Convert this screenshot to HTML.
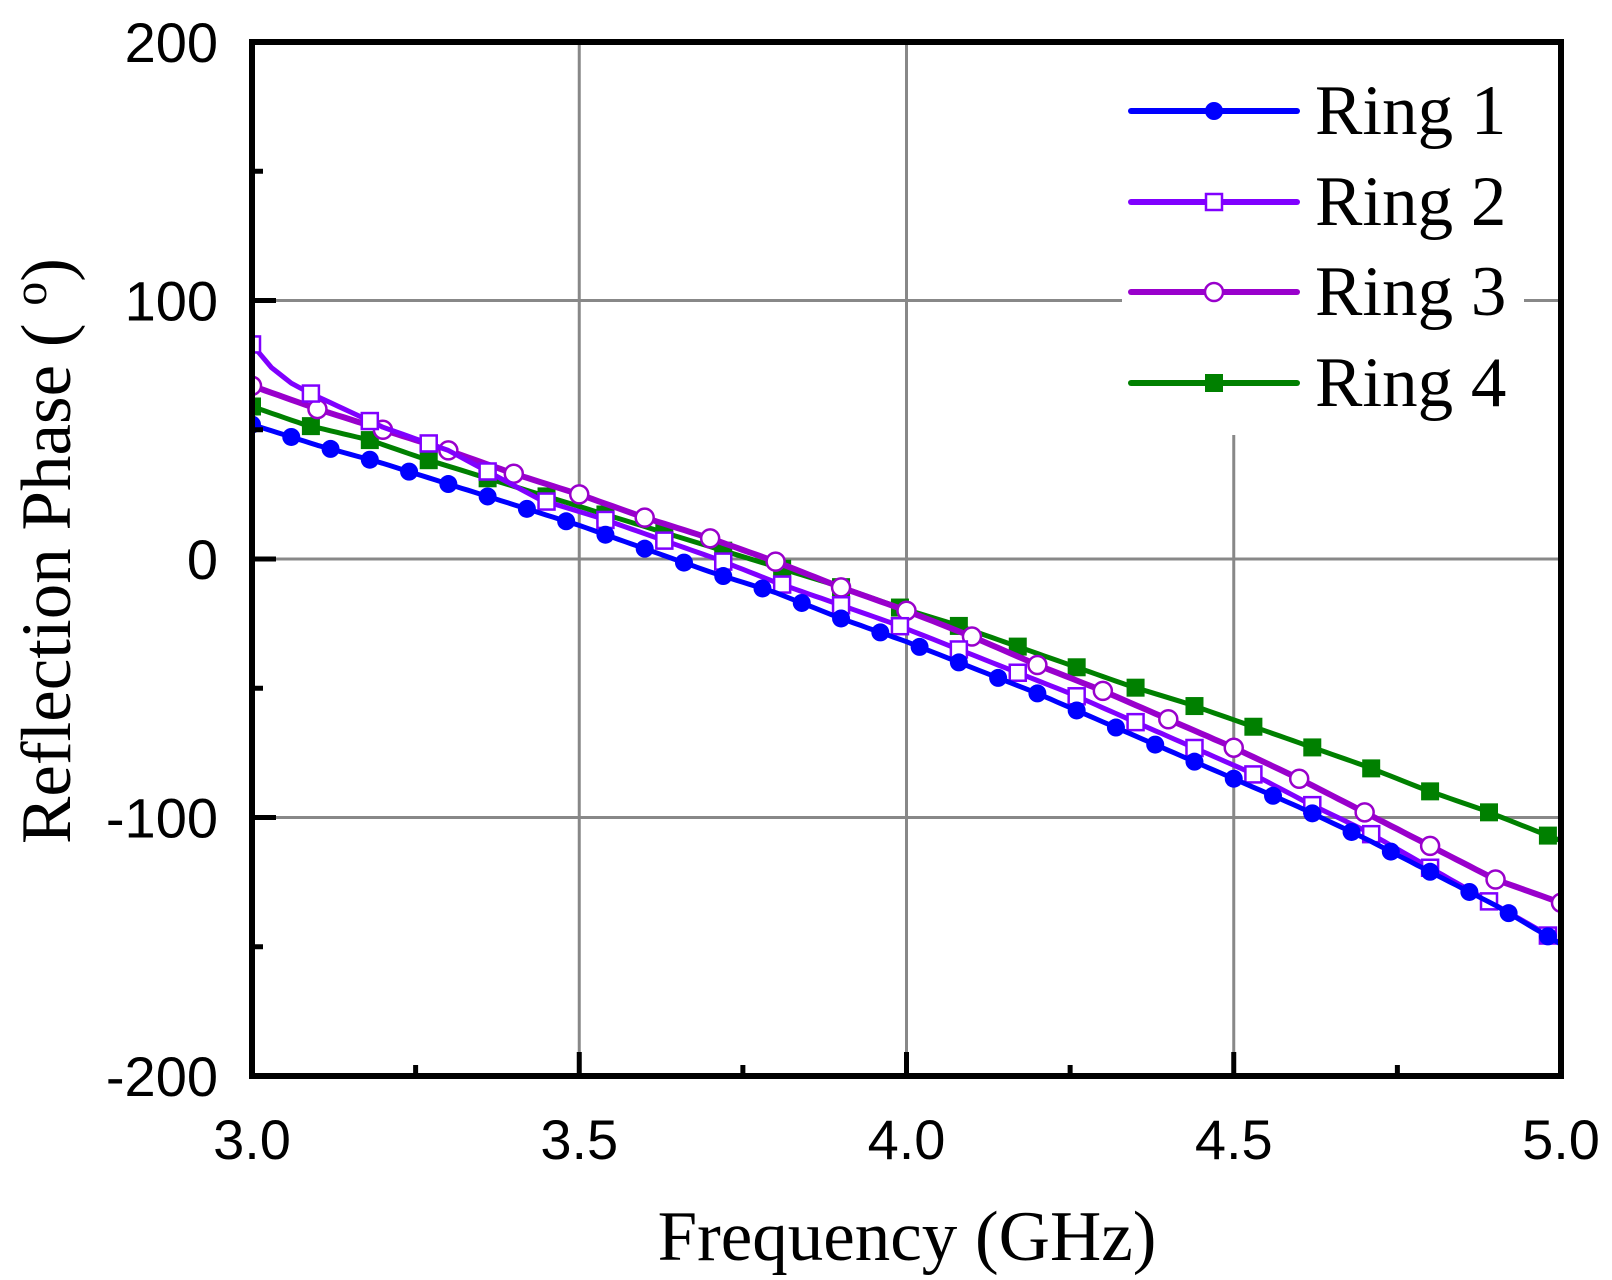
<!DOCTYPE html>
<html><head><meta charset="utf-8"><style>
html,body{margin:0;padding:0;background:#fff;}
svg{display:block;}
</style></head><body>
<svg id="s" width="1612" height="1280" xmlns="http://www.w3.org/2000/svg"></svg>
<script>
const X0=252,X1=1561,Y0=42,Y1=1076;
const fx=f=>X0+(f-3)/2*(X1-X0);
const fy=v=>Y0+(200-v)/400*(Y1-Y0);
let h='';
for(const f of [3.5,4.0,4.5]) h+=`<line x1="${fx(f)}" y1="${Y0}" x2="${fx(f)}" y2="${Y1}" stroke="#888" stroke-width="3"/>`;
for(const v of [100,0,-100]) h+=`<line x1="${X0}" y1="${fy(v)}" x2="${X1}" y2="${fy(v)}" stroke="#888" stroke-width="3"/>`;
h+=`<rect x="1122" y="45" width="402" height="390" fill="#fff"/>`;
function interp(k,f){for(let i=0;i<k.length-1;i++){if(f<=k[i+1][0]){const t=(f-k[i][0])/(k[i+1][0]-k[i][0]);return k[i][1]+t*(k[i+1][1]-k[i][1]);}}return k[k.length-1][1];}
const R1=[[3,52],[3.1,44],[3.2,37],[3.3,29],[3.4,21],[3.5,13],[3.6,4],[3.7,-5],[3.8,-13],[3.9,-23],[4,-32],[4.1,-42],[4.2,-52],[4.3,-63],[4.4,-74],[4.5,-85],[4.6,-96],[4.7,-108],[4.8,-121],[4.9,-134],[5,-149]];
const R2=[[3,83],[3.03,74],[3.06,68],[3.09,64],[3.2,51],[3.3,42],[3.44,23],[3.53,16],[3.62,8],[3.71,0],[3.8,-9],[3.89,-17],[3.98,-25],[4.07,-34],[4.16,-43],[4.25,-52],[4.34,-62],[4.43,-72],[4.52,-82],[4.61,-94],[4.7,-105],[4.79,-118],[4.88,-131],[4.97,-144],[5,-149]];
const R3=[[3,67],[3.1,58],[3.2,50],[3.3,42],[3.4,33],[3.5,25],[3.6,16],[3.7,8],[3.8,-1],[3.9,-11],[4,-20],[4.1,-30],[4.2,-41],[4.3,-51],[4.4,-62],[4.5,-73],[4.6,-85],[4.7,-98],[4.8,-111],[4.9,-124],[5,-133]];
const R4=[[3,59],[3.08,52],[3.18,46],[3.26,39],[3.35,32],[3.44,25],[3.53,18],[3.62,11],[3.71,4],[3.8,-3],[3.89,-10],[3.98,-18],[4.07,-25],[4.16,-33],[4.25,-41],[4.34,-49],[4.43,-56],[4.52,-64],[4.61,-72],[4.7,-80],[4.79,-89],[4.88,-97],[4.97,-106],[5,-109]];
function marker(type,c,x,y){
 if(type=='dot')return `<circle cx="${x}" cy="${y}" r="9" fill="${c}"/>`;
 if(type=='osq')return `<rect x="${x-8}" y="${y-8}" width="16" height="16" fill="#fff" stroke="${c}" stroke-width="2.5"/>`;
 if(type=='oc')return `<circle cx="${x}" cy="${y}" r="9" fill="#fff" stroke="${c}" stroke-width="2.5"/>`;
 return `<rect x="${x-9}" y="${y-9}" width="18" height="18" fill="${c}"/>`;
}
function series(k,c,w,type,step,start){
 let p='';for(let f=3;f<=5.0001;f+=0.01)p+=(p?'L':'M')+fx(f).toFixed(1)+','+fy(interp(k,f)).toFixed(1);
 let s=`<path d="${p}" fill="none" stroke="${c}" stroke-width="${w}" stroke-linejoin="round"/>`;
 for(let f=start;f<=5.0001;f+=step)s+=marker(type,c,fx(f),fy(interp(k,f)));
 return s;
}
h+=`<svg x="0" y="0" width="1612" height="1280"><clipPath id="cp"><rect x="${X0}" y="${Y0}" width="${X1-X0}" height="${Y1-Y0}"/></clipPath><g clip-path="url(#cp)">`;
h+=series(R4,'#008000',5,'fsq',0.09,3.0);
h+=series(R3,'#9900cc',6,'oc',0.1,3.0);
h+=series(R2,'#8000ff',5,'osq',0.09,3.0);
h+=series(R1,'#0000ff',5,'dot',0.06,3.0);
h+=`</g></svg>`;
h+=`<rect x="${X0}" y="${Y0}" width="${X1-X0}" height="${Y1-Y0}" fill="none" stroke="#000" stroke-width="6"/>`;
for(const v of [150,100,50,0,-50,-100,-150]){const L=(v%100==0)?24:11;h+=`<line x1="${X0}" y1="${fy(v)}" x2="${X0+L}" y2="${fy(v)}" stroke="#000" stroke-width="5"/>`;}
for(let f=3.25;f<5;f+=0.25){const L=(Math.abs(f*2-Math.round(f*2))<1e-6)?24:11;h+=`<line x1="${fx(f)}" y1="${Y1}" x2="${fx(f)}" y2="${Y1-L}" stroke="#000" stroke-width="5"/>`;}
for(const v of [200,100,0,-100,-200])h+=`<text x="218" y="${fy(v)+20}" text-anchor="end" font-family="Liberation Sans, sans-serif" font-size="56">${v}</text>`;
for(const f of [3,3.5,4,4.5,5])h+=`<text x="${fx(f)}" y="1159" text-anchor="middle" font-family="Liberation Sans, sans-serif" font-size="56">${f.toFixed(1)}</text>`;
h+=`<text x="907" y="1260" text-anchor="middle" font-family="Liberation Serif, serif" font-size="71">Frequency (GHz)</text>`;
h+=`<text transform="translate(70,551) rotate(-90)" text-anchor="middle" font-family="Liberation Serif, serif" font-size="71">Reflection Phase ( <tspan dy="-24" font-size="48">o</tspan><tspan dy="24">)</tspan></text>`;
const L=[['Ring 1','#0000ff','dot',111],['Ring 2','#8000ff','osq',202],['Ring 3','#9900cc','oc',292],['Ring 4','#008000','fsq',383]];
for(const [t,c,m,y] of L){h+=`<line x1="1131" y1="${y}" x2="1297" y2="${y}" stroke="${c}" stroke-width="6" stroke-linecap="round"/>`+marker(m,c,1214,y)+`<text x="1315" y="${y+23}" font-family="Liberation Serif, serif" font-size="71">${t}</text>`;}
document.getElementById('s').innerHTML=h;
</script>
</body></html>
